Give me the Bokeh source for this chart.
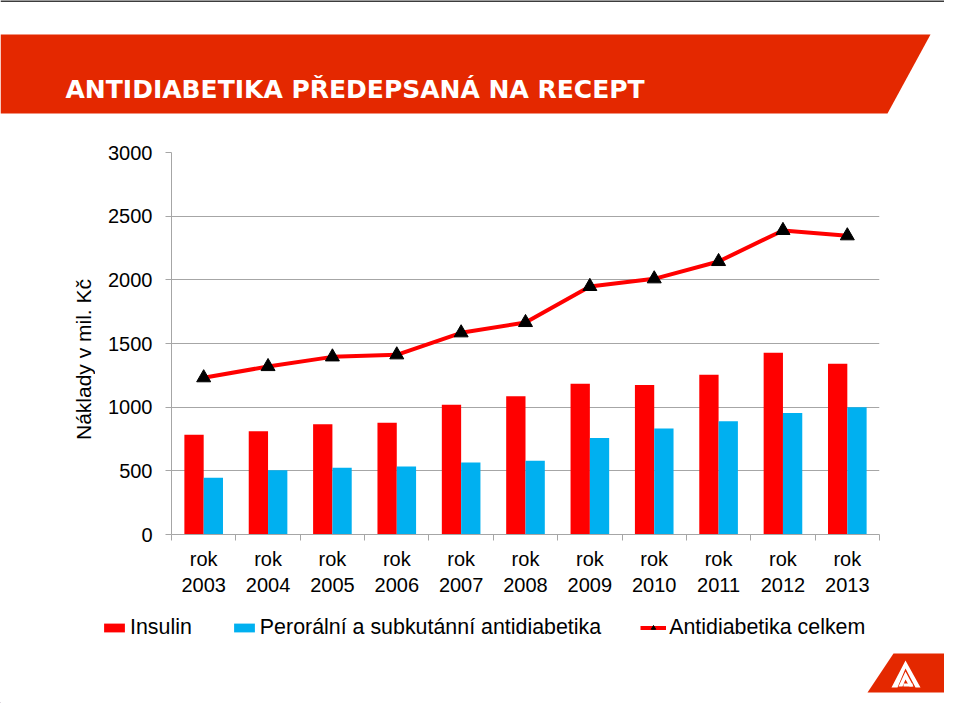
from bokeh.plotting import figure
from bokeh.layouts import column, row
from bokeh.models import (ColumnDataSource, FixedTicker, Legend, LegendItem, Range1d)
from bokeh.core.properties import value
from bokeh.transform import dodge
from bokeh.embed import file_html
from bokeh.resources import INLINE

# ---- data ----
years = [2003, 2004, 2005, 2006, 2007, 2008, 2009, 2010, 2011, 2012, 2013]
year_labels = ["rok\n2003", "rok\n2004", "rok\n2005", "rok\n2006", "rok\n2007", "rok\n2008",
               "rok\n2009", "rok\n2010", "rok\n2011", "rok\n2012", "rok\n2013"]
insulin = [783, 811, 866, 877, 1018, 1086, 1183, 1175, 1254, 1427, 1340]
peroral = [445, 505, 524, 534, 565, 579, 757, 832, 890, 955, 1000]
total = [1231, 1319, 1395, 1411, 1584, 1665, 1948, 2008, 2144, 2388, 2346]
y_ticks = [0, 500, 1000, 1500, 2000, 2500, 3000]

title_text = "ANTIDIABETIKA PŘEDEPSANÁ NA RECEPT"
y_title = "Náklady v mil. Kč"
series_names = ["Insulin", "Perorální a subkutánní antidiabetika", "Antidiabetika celkem"]

FONT = "Liberation Sans"
RED = "#FF0000"
BLUE = "#00B0F0"
BANNER = "#E42800"
GRID = "#A6A6A6"
FRAME = "#3C3C3C"

W = 944
H_TOP, H_MID, H_BOT = 130, 470, 103
W_LEFT = 95
FR_TOP, FR_BOT = 152, 534   # plot frame, page pixels


def deco_fig(w, h, yr=None):
    f = figure(width=w, height=h, output_backend="svg", toolbar_location=None,
               x_range=Range1d(0, w), y_range=Range1d(0, yr if yr else h), min_border=0,
               x_axis_location=None, y_axis_location=None)
    f.min_border_left = f.min_border_right = f.min_border_top = f.min_border_bottom = 0
    f.grid.visible = False
    f.outline_line_color = None
    f.background_fill_color = "white"
    f.border_fill_color = "white"
    return f


# ---- top banner ----
top = deco_fig(W, H_TOP)
sy = lambda y: H_TOP - y
top.patch(x=[0, 930, 887, 0], y=[sy(34), sy(34), sy(113), sy(113)],
          fill_color=BANNER, line_color=None)
top.text(x=[65], y=[sy(89)], text=[title_text], text_font=value("DejaVu Sans"),
         text_font_style="bold", text_font_size="25px", text_color="white",
         text_align="left", text_baseline="middle")
top.line(x=[0, W], y=[H_TOP - 0.5, H_TOP - 0.5], line_color=FRAME, line_width=2)

# ---- left y title (its frame is aligned with the chart frame) ----
left = deco_fig(W_LEFT, H_MID, yr=FR_BOT - FR_TOP)
left.text(x=[83], y=[FR_BOT - 359], text=[y_title], angle=1.5707963,
          text_font=value(FONT), text_font_size="21px", text_color="black",
          text_align="center", text_baseline="middle")

# ---- chart ----
src = ColumnDataSource(dict(year=years, insulin=insulin, peroral=peroral, total=total))
W_CH = W - W_LEFT
p = figure(width=W_CH, height=H_MID, output_backend="svg", toolbar_location=None,
           x_range=(2002.5, 2013.5), y_range=(0, 3000),
           min_border_left=171 - W_LEFT, min_border_right=W_CH - (879 - W_LEFT),
           min_border_top=FR_TOP - H_TOP, min_border_bottom=(H_TOP + H_MID) - FR_BOT)
p.outline_line_color = None
p.background_fill_color = "white"
p.border_fill_color = "white"

r_ins = p.vbar(x=dodge("year", -0.15), top="insulin", width=0.3, source=src,
               fill_color=RED, line_color=None)
r_per = p.vbar(x=dodge("year", 0.15), top="peroral", width=0.3, source=src,
               fill_color=BLUE, line_color=None)
r_line = p.line(x="year", y="total", source=src, line_color=RED, line_width=4)
r_mark = p.scatter(x="year", y="total", source=src, marker="triangle", size=14,
                   fill_color="black", line_color="black")

xa = p.xaxis[0]
xa.ticker = FixedTicker(ticks=years, minor_ticks=[y - 0.5 for y in years] + [years[-1] + 0.5])
xa.major_label_overrides = {y: l for y, l in zip(years, year_labels)}
xa.major_tick_out = 0
xa.major_tick_in = 0
xa.minor_tick_out = 6
xa.minor_tick_in = 0
xa.minor_tick_line_color = GRID
xa.axis_line_color = GRID
xa.major_label_standoff = 7
xa.major_label_text_font = FONT
xa.major_label_text_font_size = "20px"
xa.major_label_text_color = "black"

ya = p.yaxis[0]
ya.ticker = FixedTicker(ticks=y_ticks)
ya.major_tick_out = 6
ya.major_tick_in = 0
ya.minor_tick_line_color = None
ya.major_tick_line_color = GRID
ya.axis_line_color = GRID
ya.major_label_standoff = 13
ya.major_label_text_font = FONT
ya.major_label_text_font_size = "20px"
ya.major_label_text_color = "black"

p.xgrid.grid_line_color = None
p.ygrid.grid_line_color = GRID
p.ygrid.ticker = FixedTicker(ticks=y_ticks)

# ---- bottom: legend + logo ----
bot = deco_fig(W, H_BOT)
by = lambda y: (H_TOP + H_MID + H_BOT) - y
# legend proxies (kept outside the visible range)
l_ins = bot.vbar(x=[-1000], top=[1], width=1, fill_color=RED, line_color=None)
l_per = bot.vbar(x=[-1000], top=[1], width=1, fill_color=BLUE, line_color=None)
l_line = bot.line(x=[-1000, -999], y=[1, 1], line_color=RED, line_width=4)
l_mark = bot.scatter(x=[-1000], y=[1], marker="triangle", size=12,
                     fill_color="black", line_color="black")
legend = Legend(items=[LegendItem(label=series_names[0], renderers=[l_ins]),
                       LegendItem(label=series_names[1], renderers=[l_per]),
                       LegendItem(label=series_names[2], renderers=[l_line, l_mark])],
                orientation="horizontal", location=(101, by(640)),
                border_line_color=None, background_fill_alpha=0,
                padding=0, margin=0, spacing=39, glyph_width=26, glyph_height=11,
                label_standoff=3, label_text_font=FONT, label_text_font_size="21.4px",
                label_text_color="black")
bot.add_layout(legend)

bot.patch(x=[893, 944, 944, 867], y=[by(653), by(653), by(692), by(692)],
          fill_color=BANNER, line_color=None)
# logo: nested chevrons with a hook
bot.patch(x=[905, 920, 915, 905, 897, 891], y=[by(660), by(687), by(687), by(668), by(687), by(687)],
          fill_color="white", line_color=None)
bot.patch(x=[905, 913, 909, 905, 902, 898], y=[by(671), by(686), by(686), by(679), by(686), by(686)],
          fill_color="white", line_color=None)
bot.patch(x=[903, 912, 912, 903], y=[by(683), by(683), by(686), by(686)],
          fill_color="white", line_color=None)

layout = column(top, row(left, p), bot)
open("out.html", "w").write(file_html(layout, INLINE))
